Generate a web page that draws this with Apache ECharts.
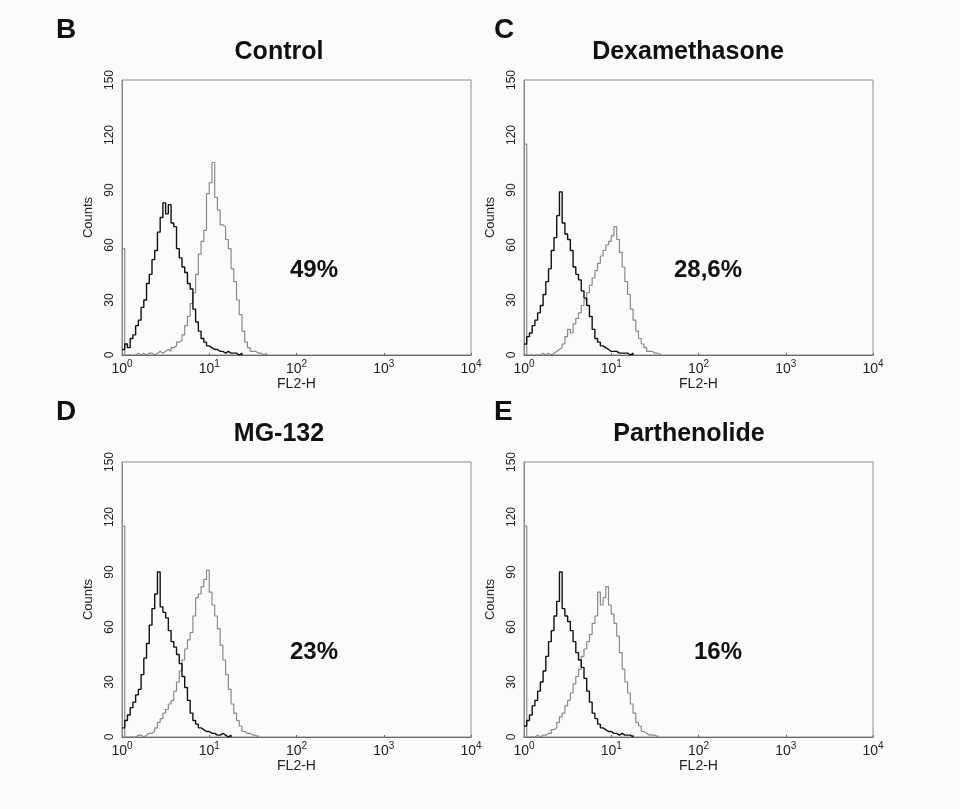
<!DOCTYPE html>
<html>
<head>
<meta charset="utf-8">
<title>FL2-H histograms</title>
<script src="https://cdn.jsdelivr.net/npm/echarts@6/dist/echarts.min.js"></script>
<style>
html, body { margin: 0; padding: 0; background: #fbfbfb; }
#chart { width: 960px; height: 809px; }
</style>
</head>
<body>
<div id="chart"></div>
<script>
// 256-channel log histograms (4 decades), one count every 2 channels, starting at channel 0
const channelsPerDecade = 64;
const channelStep = 2;
const decadeTicks = [0, 1, 2, 3, 4];
const countTicks = [0, 30, 60, 90, 120, 150];

const panelLetters = ['B', 'C', 'D', 'E'];
const panelTitles = ['Control', 'Dexamethasone', 'MG-132', 'Parthenolide'];
const percentLabels = ['49%', '28,6%', '23%', '16%'];

// black = control staining, gray = sample
const blackB = [3, 6, 4, 9, 11, 16, 19, 26, 30, 39, 44, 52, 57, 67, 75, 83, 77, 82, 72, 70,
    58, 53, 48, 45, 39, 36, 25, 18, 13, 9, 7, 5, 4, 3, 3, 2, 2, 1, 2, 1, 1, 1, 0, 1, 0];
const grayB = [58, 0, 0, 0, 0, 1, 0, 1, 0, 1, 1, 0, 1, 2, 1, 2, 3, 2, 4, 5,
    7, 8, 11, 16, 21, 28, 34, 44, 55, 62, 68, 88, 94, 105, 86, 79, 71, 70, 63, 58,
    47, 40, 30, 22, 13, 7, 4, 2, 2, 1, 1, 0, 1, 0];

const blackC = [6, 10, 12, 16, 19, 23, 27, 33, 40, 47, 57, 64, 76, 89, 72, 66, 63, 57, 48, 44,
    41, 35, 31, 27, 21, 14, 9, 7, 5, 4, 3, 2, 2, 2, 1, 1, 1, 1, 0, 1, 0];
const grayC = [115, 0, 0, 0, 0, 0, 1, 0, 1, 0, 1, 2, 3, 4, 6, 10, 14, 12, 17, 20,
    23, 27, 30, 34, 38, 42, 46, 50, 54, 57, 60, 62, 65, 70, 63, 56, 48, 40, 33, 25,
    19, 13, 9, 6, 4, 2, 2, 1, 1, 0, 1];

const blackD = [5, 9, 12, 16, 19, 23, 26, 34, 43, 51, 61, 70, 78, 90, 71, 68, 65, 58, 52, 49,
    45, 40, 33, 27, 20, 13, 9, 7, 5, 4, 3, 3, 2, 2, 1, 1, 2, 1, 0, 1, 0];
const grayD = [115, 0, 0, 0, 0, 1, 1, 0, 1, 2, 2, 3, 5, 8, 10, 13, 15, 18, 20, 25,
    30, 36, 42, 48, 53, 57, 66, 76, 78, 82, 86, 91, 79, 72, 66, 59, 50, 42, 34, 26,
    18, 13, 9, 6, 3, 2, 2, 1, 1, 0, 1];

const blackE = [6, 9, 12, 17, 20, 25, 30, 36, 44, 52, 58, 66, 74, 90, 70, 66, 63, 58, 52, 46,
    42, 38, 32, 25, 19, 13, 10, 7, 5, 4, 3, 3, 2, 2, 1, 2, 1, 1, 1, 0, 1];
const grayE = [115, 0, 0, 0, 1, 0, 1, 1, 2, 2, 4, 5, 8, 11, 13, 17, 20, 24, 29, 33,
    37, 44, 48, 52, 56, 62, 66, 79, 72, 76, 82, 72, 67, 62, 55, 46, 37, 30, 24, 18,
    13, 8, 6, 3, 2, 1, 1, 1, 0, 1];

const blackSeries = [blackB, blackC, blackD, blackE];
const graySeries = [grayB, grayC, grayD, grayE];

const FONT = '"Liberation Sans", Arial, Helvetica, sans-serif';
const panels = [
    {left: 122, top: 80, letterX: 56, textX: 279, pctX: 314},
    {left: 524, top: 80, letterX: 494, textX: 688, pctX: 708},
    {left: 122, top: 462, letterX: 56, textX: 279, pctX: 314},
    {left: 524, top: 462, letterX: 494, textX: 689, pctX: 718}
];
const PW = 349, PH = 275;

function toPoints(counts) {
    return counts.map((c, i) => [(i * channelStep) / channelsPerDecade, c]);
}

const grids = [], xAxes = [], yAxes = [], series = [], graphics = [];

panels.forEach((p, i) => {
    grids.push({
        left: p.left, top: p.top, width: PW, height: PH,
        show: true, borderColor: '#8c8c8c', borderWidth: 1, backgroundColor: 'transparent'
    });
    xAxes.push({
        gridIndex: i, type: 'value',
        min: decadeTicks[0], max: decadeTicks[decadeTicks.length - 1], interval: 1,
        name: 'FL2-H', nameLocation: 'middle', nameGap: 22,
        nameTextStyle: {fontFamily: FONT, fontSize: 14, color: '#222'},
        axisLine: {lineStyle: {color: '#666', width: 1}},
        axisTick: {show: true, inside: true, length: 2, lineStyle: {color: '#666'}},
        splitLine: {show: false},
        axisLabel: {
            margin: 3,
            formatter: (v) => '{b|10}{s|' + v + '}',
            rich: {
                b: {fontFamily: FONT, fontSize: 14, color: '#222', lineHeight: 18, verticalAlign: 'bottom'},
                s: {fontFamily: FONT, fontSize: 10, color: '#222', padding: [0, 0, 7, 0], verticalAlign: 'bottom'}
            }
        }
    });
    yAxes.push({
        gridIndex: i, type: 'value',
        min: countTicks[0], max: countTicks[countTicks.length - 1], interval: 30,
        name: 'Counts', nameLocation: 'middle', nameRotate: 90, nameGap: 27,
        nameTextStyle: {fontFamily: FONT, fontSize: 13, color: '#222'},
        axisLine: {show: true, lineStyle: {color: '#888', width: 1}},
        axisTick: {show: false},
        splitLine: {show: false},
        axisLabel: {rotate: 90, margin: 6, fontFamily: FONT, fontSize: 12, color: '#222'}
    });
    series.push({
        type: 'line', xAxisIndex: i, yAxisIndex: i, step: 'end',
        data: toPoints(graySeries[i]), showSymbol: false, silent: true,
        lineStyle: {color: '#8a8a8a', width: 1.2}, z: 2
    });
    series.push({
        type: 'line', xAxisIndex: i, yAxisIndex: i, step: 'end',
        data: toPoints(blackSeries[i]), showSymbol: false, silent: true,
        lineStyle: {color: '#111', width: 1.4}, z: 3
    });
    const baseY = p.top === 80 ? 0 : 382;
    graphics.push({
        type: 'text', x: p.letterX, y: baseY + 30,
        style: {text: panelLetters[i], font: 'bold 28px ' + FONT, fill: '#111',
            align: 'left', verticalAlign: 'middle', textAlign: 'left', textVerticalAlign: 'middle'}
    });
    graphics.push({
        type: 'text', x: p.textX, y: baseY + 52,
        style: {text: panelTitles[i], font: 'bold 25px ' + FONT, fill: '#111',
            align: 'center', verticalAlign: 'middle', textAlign: 'center', textVerticalAlign: 'middle'}
    });
    graphics.push({
        type: 'text', x: p.pctX, y: p.top + 190,
        style: {text: percentLabels[i], font: 'bold 24px ' + FONT, fill: '#111',
            align: 'center', verticalAlign: 'middle', textAlign: 'center', textVerticalAlign: 'middle'}
    });
});

const chart = echarts.init(document.getElementById('chart'), null, {renderer: 'canvas'});
chart.setOption({
    backgroundColor: '#fbfbfb',
    animation: false,
    grid: grids,
    xAxis: xAxes,
    yAxis: yAxes,
    series: series,
    graphic: graphics
});
</script>
</body>
</html>
